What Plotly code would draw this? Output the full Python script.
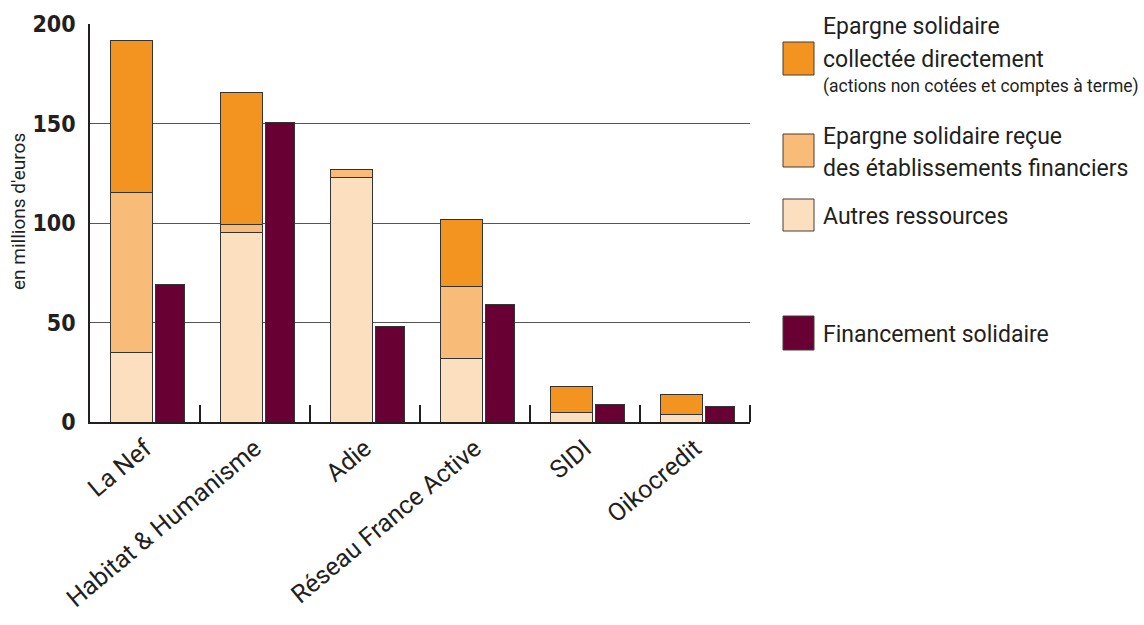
import plotly.graph_objects as go

categories = ["La Nef", "Habitat & Humanisme", "Adie", "Réseau France Active", "SIDI", "Oikocredit"]
autres_ressources = [35, 95, 123, 32, 5, 4]
epargne_recue = [80.5, 4.5, 4, 36, 0, 0]
epargne_collectee = [76, 66, 0, 34, 13, 10]
financement = [69, 150.5, 48, 59, 9, 8]
y_ticks = [0, 50, 100, 150, 200]

C_COLL = "#F39320"
C_RECU = "#F9BB78"
C_AUTR = "#FCDFBE"
C_FIN = "#690033"
EDGE = "#333333"

# plot area in pixels
L, R, T, B = 90, 750, 24, 422
W, H = R - L, B - T
def fx(px):
    return (px - L) / W
def fy(py):
    return (B - py) / H

idx = list(range(len(categories)))
x_stack = [i - 0.127 for i in idx]
x_fin = [i + 0.227 for i in idx]

fig = go.Figure()
for name, vals, col in [("Autres ressources", autres_ressources, C_AUTR),
                        ("Epargne solidaire reçue", epargne_recue, C_RECU),
                        ("Epargne solidaire collectée", epargne_collectee, C_COLL)]:
    fig.add_trace(go.Bar(x=x_stack, y=vals, width=0.382, name=name,
                         marker=dict(color=col, line=dict(color=EDGE, width=1)),
                         showlegend=False))
fig.add_trace(go.Bar(x=x_fin, y=financement, width=0.255, name="Financement solidaire",
                     marker=dict(color=C_FIN, line=dict(color=EDGE, width=1)),
                     showlegend=False))

fig.update_layout(
    width=1144, height=625,
    margin=dict(l=L, r=1144 - R, t=T, b=625 - B),
    barmode="stack",
    plot_bgcolor="white", paper_bgcolor="white",
    font=dict(family="Roboto, sans-serif", color="#231f20"),
    xaxis=dict(range=[-0.5, 5.5], tickvals=idx, ticktext=categories, automargin=False,
               tickangle=-40, tickfont=dict(size=25, family="Roboto", color="#231f20"),
               showgrid=False, zeroline=False, showline=True, linecolor="#231f20", linewidth=2,
               ticks="",
               minor=dict(tickvals=[i + 0.5 for i in idx], ticks="inside", ticklen=17,
                          tickcolor="#231f20", tickwidth=1.5, showgrid=False)),
    yaxis=dict(range=[0, 200], tickvals=y_ticks, ticktext=[str(v) for v in y_ticks], automargin=False,
               tickfont=dict(size=23, family="DejaVu Sans Condensed", weight="bold", color="#231f20"),
               showgrid=True, gridcolor="#555555", gridwidth=1,
               zeroline=False, showline=True, linecolor="#231f20", linewidth=1.5,
               ticks="", ticklabelstandoff=8),
)

# y-axis title
fig.add_annotation(text="en millions d'euros", xref="paper", yref="paper",
                   x=fx(18), y=fy(212), textangle=-90, showarrow=False,
                   xanchor="center", yanchor="middle",
                   font=dict(size=19, family="Roboto", color="#231f20"))

# legend (swatches + text)
swatches = [(42, 75, C_COLL), (134, 167, C_RECU), (199, 231, C_AUTR), (316, 350, C_FIN)]
for y0, y1, col in swatches:
    fig.add_shape(type="rect", xref="paper", yref="paper",
                  x0=fx(783), x1=fx(814), y0=fy(y1), y1=fy(y0),
                  fillcolor=col, line=dict(color="#4a3a30", width=1))

legend_lines = [
    ("Epargne solidaire", 27, 23),
    ("collectée directement", 59, 23),
    ("(actions non cotées et comptes à terme)", 87, 17.5),
    ("Epargne solidaire reçue", 136, 23),
    ("des établissements financiers", 168, 23),
    ("Autres ressources", 216, 23),
    ("Financement solidaire", 334, 23),
]
for txt, yc, sz in legend_lines:
    fig.add_annotation(text=txt, xref="paper", yref="paper", x=fx(821), y=fy(yc),
                       xanchor="left", yanchor="middle", showarrow=False,
                       font=dict(size=sz, family="Roboto", color="#231f20"))

fig.write_html("out.html")
